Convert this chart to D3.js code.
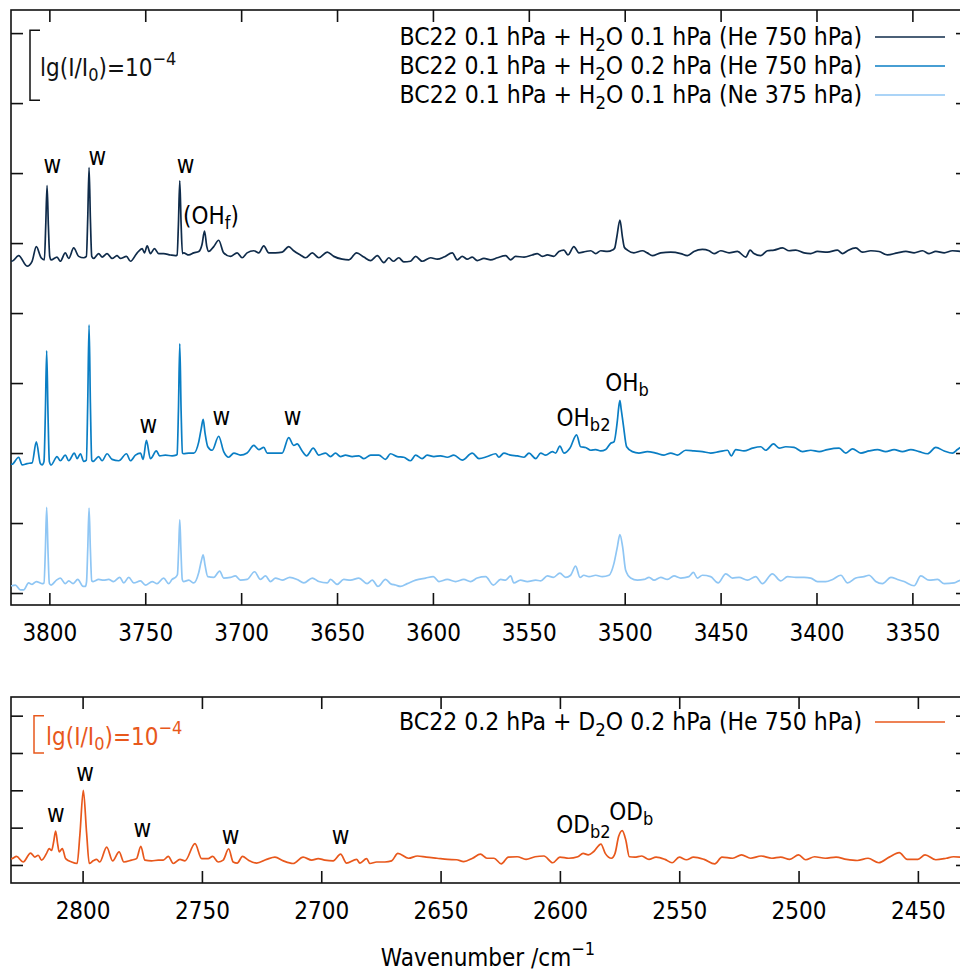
<!DOCTYPE html>
<html>
<head>
<meta charset="utf-8">
<script src="https://cdn.jsdelivr.net/npm/d3@7"></script>
<style>
body { margin: 0; background: #fff; }
text { font-family: "DejaVu Sans", sans-serif; font-stretch: condensed; fill: #000; }
</style>
</head>
<body>
<div id="main"></div>
<script>
// values in units of 1e-5 (so the 1e-4 scale bar is 10 units), relative to each trace baseline
let topXDomain = [3820, 3321];
let botXDomain = [2830, 2429];
let topYDomain = [-1.71, 83.3];
let botYDomain = [-4.83, 45.0];
let topXTicks = [3800, 3750, 3700, 3650, 3600, 3550, 3500, 3450, 3400, 3350];
let botXTicks = [2800, 2750, 2700, 2650, 2600, 2550, 2500, 2450];
let topYTicks = [0, 10, 20, 30, 40, 50, 60, 70, 80];
let botYTicks = [0, 10, 20, 30, 40];

let topLabels = [
  "BC22 0.1 hPa + H_{2}O 0.1 hPa (He 750 hPa)",
  "BC22 0.1 hPa + H_{2}O 0.2 hPa (He 750 hPa)",
  "BC22 0.1 hPa + H_{2}O 0.1 hPa (Ne 375 hPa)"
];
let topColors = ["#0f2b4a", "#0a7ec4", "#8fc6f4"];
let topOffsets = [47.9, 19.0, 1.14];
let botLabel = "BC22 0.2 hPa + D_{2}O 0.2 hPa (He 750 hPa)";
let botColor = "#e8581c";
let botOffset = 1.8;

let darkTrace = [[3820,-0.5],[3819.5,-0.5],[3816,0.3],[3811.6,-1.2],[3809,-0.5],[3806.8,1.6],[3804.3,0],[3802.6,-0.3],[3801.9,4.5],[3801.2,10.3],[3800.5,4.5],[3799.8,0.2],[3799.1,-0.3],[3796,0.1],[3794.3,-0.5],[3791.7,0.7],[3789.9,-0.1],[3787.3,1.4],[3784.7,0.2],[3782.1,0],[3780.7,0.2],[3780,5.5],[3779.3,12.9],[3778.6,5.5],[3777.9,0.2],[3776.9,-0.1],[3774.3,0.6],[3772.5,0.1],[3769.9,0.6],[3767.3,-0.1],[3764.7,0.3],[3763,-0.1],[3759.8,0.2],[3757.7,-0.5],[3754.2,0.7],[3751.6,1.3],[3750.4,0.7],[3749,1.7],[3747.3,0.6],[3745.2,1.3],[3743,0.6],[3740.4,0.6],[3736.9,0.4],[3734.3,0.3],[3733.4,0.4],[3732.7,4.8],[3732,11],[3731.3,4.8],[3730.6,0.6],[3730,0.7],[3727.3,0.4],[3724.7,0.7],[3722.1,0.9],[3720.4,1.9],[3719.1,3.8],[3717.9,1.6],[3716.9,0.9],[3714.3,1.6],[3711.7,2.5],[3709.1,0.7],[3705.6,0.2],[3702.1,0.7],[3699.5,0],[3696.9,0.7],[3693.4,1.0],[3690.8,0.7],[3688.2,1.7],[3685.6,0.7],[3682.1,0.7],[3678.6,0.8],[3675.2,1.6],[3672.6,1.0],[3669.1,0.4],[3666.4,0],[3662.9,0.7],[3659.5,0],[3655.1,0.8],[3651.7,0.2],[3647.3,-0.2],[3643.8,-0.3],[3639.8,0.7],[3636,0.1],[3632.5,-0.4],[3629,0.3],[3625.6,-0.7],[3623,0],[3620.7,-0.5],[3617.8,0],[3615.2,-0.6],[3611.7,-0.5],[3609,0.2],[3605.6,-0.5],[3601.2,0],[3597.7,-0.2],[3594.3,0.1],[3589.9,0.7],[3587.3,-0.3],[3584.7,0.2],[3582.1,-0.2],[3579.5,0.1],[3576.9,-0.4],[3573.4,-0.1],[3569.9,-0.3],[3566.4,0],[3562.1,0.3],[3559.5,-0.3],[3556.9,0.2],[3552.5,0.1],[3548.2,0.4],[3545.6,0.6],[3543,0.2],[3540.3,0.4],[3536.9,0.2],[3534.3,0.9],[3531.7,1.1],[3529.6,0.4],[3526.5,1.6],[3523.9,0.7],[3520.4,0.9],[3517.7,1.0],[3515.1,0.6],[3512.5,1.0],[3509,0.9],[3506.4,1.1],[3505.2,1.4],[3504.1,3.0],[3502.5,5.4],[3501.2,3.0],[3500.2,1.5],[3498.6,1.1],[3495.2,0.7],[3490.8,1.0],[3488.2,0.7],[3485.6,0.3],[3481.2,0.7],[3476,0.8],[3470.8,0.6],[3467.3,0.3],[3463.9,0.9],[3459.5,1.2],[3456,1.0],[3453.4,0.6],[3449.9,1.0],[3445.6,0.7],[3441.2,0.9],[3436.9,0.1],[3434.6,1.1],[3432.6,0.6],[3429.1,0.3],[3425.6,1.0],[3422.1,1.1],[3417.7,1.4],[3414.3,1.0],[3410.8,1.1],[3406.5,0.7],[3403,0.6],[3399.5,0.9],[3394.3,0.8],[3389.1,1.1],[3386.4,0.6],[3383.8,1.0],[3379.5,1.4],[3376,0.8],[3371.7,1.0],[3367.4,0.9],[3363,0.4],[3357.8,0.7],[3353.4,0.9],[3349.1,0.7],[3344.7,1.0],[3341.3,0.6],[3337.8,0.9],[3333.4,0.7],[3329.1,1.0],[3324.7,0.9],[3320,0.8]];

let mediumTrace = [[3820,-0.6],[3819.5,-0.6],[3816,0.4],[3814.2,-0.7],[3811.6,-0.5],[3809,-0.4],[3806.8,2.6],[3804.7,-0.5],[3803.8,-0.7],[3802.8,-0.2],[3802.1,6.5],[3801.4,15.6],[3800.7,6.5],[3800,-0.2],[3799.1,-0.7],[3796,0.5],[3794.3,-0.1],[3791.7,0.7],[3789.9,-0.1],[3787,1.0],[3785.5,0.2],[3783.8,0.9],[3782.1,-0.2],[3780.7,0],[3780,8],[3779.3,19.3],[3778.6,8],[3777.9,0],[3777.2,-0.2],[3774.3,0.5],[3772.5,-0.1],[3769.9,0.9],[3767.3,0.1],[3763.8,-0.1],[3759.8,0.9],[3757.7,-0.1],[3755.1,0.7],[3752.5,1.0],[3751.1,0.1],[3749.4,2.8],[3747.3,0.2],[3744.2,1.3],[3742.5,0.6],[3739.5,0.7],[3736,0.6],[3733.9,0.7],[3733.4,0.8],[3732.7,7],[3732,16.6],[3731.3,7],[3730.6,1.0],[3730,0.9],[3727.3,1.0],[3724.7,1.0],[3722.1,2.6],[3720.8,4.5],[3719.8,5.8],[3718.8,3.8],[3717.4,1.9],[3715.1,1.4],[3711.7,3.4],[3709.1,1.2],[3706.5,0.4],[3703.8,1.0],[3700.4,0.7],[3696.9,1.0],[3693.4,2.1],[3690.8,1.5],[3688.2,1.8],[3686.4,1.0],[3683,1.0],[3678.6,1.0],[3675.2,3.2],[3672.6,2.1],[3670.8,2.3],[3668.2,1.3],[3665.9,0.6],[3662.4,1.7],[3659.5,0.7],[3656,1.0],[3653.4,0.5],[3650.8,1.0],[3648.2,0.5],[3645.6,0.7],[3642.1,0.5],[3638.6,0.6],[3636,0.2],[3632.5,0.7],[3628.2,0.7],[3624.7,0.1],[3622.1,0.9],[3618.6,0.5],[3615.2,0.4],[3611.7,-0.1],[3609,0.7],[3605.6,0.2],[3603,0.7],[3599.5,0.5],[3596,0.6],[3592.5,0.4],[3589.1,0.7],[3584.7,0],[3579.5,1.0],[3576,0.2],[3571.6,0.5],[3567.3,0.9],[3565.6,0.4],[3563,1.0],[3559.5,0.7],[3556,0.6],[3552.5,0.4],[3549.9,1.0],[3546.4,0.2],[3543.8,1.0],[3541.2,0.7],[3537.7,1.2],[3536,1.0],[3533.8,2.0],[3531.7,1.0],[3528.6,1.7],[3525.1,3.6],[3523,1.9],[3520.4,1.8],[3517.7,1.4],[3515.1,1.5],[3512.5,1.3],[3509.9,1.5],[3507.3,2.4],[3505.6,2.6],[3503.8,5.7],[3503.1,7.6],[3502.5,8.5],[3501.9,7.4],[3500.7,5.0],[3499,1.9],[3496,1.2],[3492.6,1.0],[3488.2,1.2],[3483.8,1.0],[3479.5,0.7],[3476,1.0],[3472.5,0.7],[3468.2,1.4],[3463.9,1.3],[3459.5,1.2],[3455.2,1.0],[3450.8,1.2],[3446.4,1.4],[3444.4,0.6],[3442.1,1.5],[3437.8,1.3],[3433.4,1.7],[3429.1,1.9],[3426.5,1.4],[3422.4,2.3],[3419.5,1.7],[3416,1.9],[3411.7,1.8],[3407.3,1.2],[3403,1.4],[3398.6,1.2],[3394.3,1.5],[3388.2,1.7],[3384.7,1.0],[3381.2,1.6],[3376.9,1.0],[3372.6,1.3],[3368.2,1.5],[3363.9,1.2],[3359.5,1.5],[3355.2,1.2],[3350.8,1.5],[3346.5,1.2],[3342.1,0.9],[3337.8,1.8],[3333.4,1.3],[3329.1,1.0],[3326.5,1.5],[3324.7,1.8],[3320,1.6]];

let lightTrace = [[3820,-0.1],[3819.5,-0.1],[3817.7,0],[3815.1,-0.7],[3813.4,-0.7],[3810.8,0.3],[3809,0.1],[3806.8,0.5],[3803.8,0.2],[3802.8,0.3],[3802.1,4.8],[3801.4,11.1],[3800.7,4.8],[3800,0.2],[3799.1,0],[3796.3,0.7],[3794.3,1.0],[3791.7,0.2],[3789.9,0.6],[3787.6,0.2],[3785.2,0.8],[3782.4,-0.2],[3781.2,-0.2],[3780.6,0.5],[3780,5],[3779.3,11.0],[3778.6,5],[3777.9,0.6],[3777.2,0.5],[3774.3,0.8],[3771.7,0.7],[3769.1,0.8],[3766.5,0.5],[3763.3,1.1],[3761.2,0.3],[3758.6,1.1],[3756,0.3],[3752.5,0.6],[3749.9,0],[3746.4,0.5],[3743.8,0.2],[3740.4,1.0],[3737.8,0.2],[3736,0.8],[3733.9,1.2],[3733.2,1.5],[3732.6,5],[3732,9.3],[3731.4,5],[3730.7,0.8],[3730,0.5],[3727.3,0.7],[3724.7,0.3],[3722.1,1.8],[3720.8,3.4],[3719.8,4.3],[3718.8,2.8],[3717.4,1.2],[3714.3,1.1],[3711.2,2.0],[3709.1,1.0],[3705.6,1.1],[3703,1.3],[3700.4,0.7],[3696.9,0.8],[3693,1.9],[3689.9,0.8],[3687.3,1.3],[3684.7,0.5],[3682.1,1.0],[3678.6,0.7],[3674.6,1.1],[3670.8,0.8],[3667.3,0.3],[3662.9,1.0],[3659.5,0.5],[3655.1,0.3],[3653.4,0.8],[3649.9,0.1],[3646.5,0.8],[3643,0.7],[3638.6,1.0],[3634.3,0.2],[3631.6,0.7],[3628.7,-0.2],[3624.7,0.8],[3622.1,0.2],[3619.5,0],[3616.9,-0.2],[3613.4,0.2],[3609,0.7],[3603.8,1.0],[3599.8,1.2],[3596.9,0.5],[3592.5,0.8],[3588.2,0.5],[3583.9,0.8],[3580.4,0.5],[3576.9,1.0],[3572.5,1.2],[3568.5,0],[3564.7,0.8],[3562.1,0.7],[3559.5,1.3],[3557.8,0.3],[3554.3,0.7],[3550.8,0.5],[3546.4,0.7],[3543.8,0.6],[3540.3,1.3],[3537.2,1.1],[3533.8,1.7],[3530.8,1.1],[3528.2,1.4],[3525.6,2.7],[3523.3,1.1],[3521.3,1.4],[3518.6,1.2],[3515.1,1.4],[3511.7,1.2],[3508.2,1.4],[3505.6,3.1],[3503.8,5.5],[3502.5,7.2],[3501.1,5.5],[3499.5,2.1],[3496.9,1.0],[3493.4,0.7],[3489.9,0.8],[3487.3,1.1],[3484.7,0.7],[3481.2,1.1],[3477.7,0.8],[3474.3,1.3],[3470.8,1.0],[3466.5,1.2],[3464.2,1.8],[3462.1,1.0],[3459.5,1.4],[3455.2,1.2],[3451.3,0.3],[3447.3,1.6],[3443.8,1.0],[3440.4,1.1],[3436,0.7],[3431.7,1.2],[3428.2,0.2],[3423,1.6],[3418.6,0.6],[3415.1,1.2],[3410.8,1.1],[3406.5,1.1],[3403,1.0],[3399.5,0.5],[3395.2,0.5],[3391.6,0.8],[3387.3,1.4],[3383.8,0.3],[3379.5,1.0],[3375.2,1.2],[3372.6,1.4],[3369.1,0.5],[3365.6,0.2],[3361.2,1.1],[3357.8,0.8],[3354.3,0.5],[3349.1,-0.1],[3345.6,1.3],[3341.3,0.7],[3336.9,0.8],[3333.4,0.2],[3328.2,0.3],[3324.7,0.7],[3320,0.6]];

let orangeTrace = [[2830,-0.1],[2829.7,-0.1],[2827.7,0.5],[2824.9,-1.0],[2821.8,1.4],[2820,0.3],[2818.6,0.8],[2817.2,-0.5],[2815.1,1.3],[2814,2.6],[2813,2.1],[2812.1,4.5],[2811.3,7.3],[2810.5,4],[2809.8,1.7],[2808.5,2.6],[2807.1,-0.1],[2804.6,-1.0],[2802.3,-1.4],[2801.1,6.6],[2799.7,18.2],[2798.3,6.6],[2797.2,-1.4],[2795.6,-0.7],[2794.1,-0.3],[2792.8,-1.0],[2789.9,3.0],[2787.4,-0.7],[2784.7,1.7],[2782.7,-1.0],[2779.5,-0.5],[2777.4,-0.1],[2775.6,3.2],[2773.9,-0.5],[2771.1,-0.7],[2768.3,-0.5],[2766.2,-0.5],[2764.1,0.5],[2762,-1.4],[2759.2,-0.3],[2757.1,-0.7],[2752.9,3.9],[2750.1,-0.1],[2747.4,-0.1],[2745.5,0.5],[2743.2,-1.0],[2741.1,-0.5],[2738.8,2.5],[2736.9,-1.0],[2735.2,-1.3],[2733,0.5],[2730.6,-0.5],[2727.1,-1.3],[2722.9,-0.3],[2719.4,0.3],[2715.9,-0.7],[2711.8,-1.4],[2707.6,0.3],[2704,-0.5],[2701.3,-0.1],[2698.5,-0.5],[2695,-0.7],[2691.9,1.1],[2689.4,-1.3],[2685.2,-0.3],[2683.8,-1.3],[2681,-0.1],[2679.6,-1.4],[2676.8,-1.0],[2673.3,-1.0],[2670.5,-0.7],[2667.9,1.3],[2663.4,0],[2659.7,0.6],[2656,0.3],[2651.5,0],[2647,-0.3],[2643.3,-0.4],[2640.3,-0.9],[2636.6,0],[2633.3,1.1],[2630.6,0],[2627.6,0],[2624.6,-1.5],[2621.6,0.3],[2617.9,0.4],[2614.2,-0.3],[2610.4,0.4],[2606.7,0.6],[2603,-1.2],[2600,0.3],[2596.3,0],[2592.5,0.4],[2590.3,1.3],[2588.1,0.9],[2585.8,1.8],[2582.8,3.8],[2581,1.3],[2578.4,0],[2576.9,1.3],[2575.4,5.8],[2573.9,7.4],[2572.4,4.9],[2570.9,0.4],[2568.7,0.3],[2565.7,0.6],[2562.7,-0.3],[2559.7,0.3],[2556,-0.3],[2553,-1.2],[2550,0.3],[2547,-0.4],[2544,0.3],[2539.6,-0.3],[2535.1,-1.5],[2532.1,0.3],[2527.6,0],[2523.9,0.9],[2520.1,0],[2515.7,0.6],[2511.2,0],[2507.5,0.3],[2503.7,-0.3],[2500,0.9],[2497,-0.4],[2493.3,0.4],[2488.8,0],[2484.3,0.3],[2479.9,-0.3],[2475.4,-0.6],[2470.9,0],[2466.4,-1.2],[2462,0.3],[2457.8,1.5],[2454.5,-0.3],[2450,-0.3],[2447,0.9],[2442.5,-0.4],[2438.1,0],[2435.1,0.4],[2430,0.2]];

// peak annotations: [text, wavenumber, value (absolute panel units), anchor]
let topNotes = [
  ["w", 3798.4, 60.0, "middle"], ["w", 3775.0, 61.1, "middle"], ["w", 3729.0, 60.0, "middle"],
  ["(OH_{f})", 3730.3, 52.7, "start"],
  ["w", 3748.4, 22.9, "middle"], ["w", 3710.3, 24.0, "middle"], ["w", 3673.2, 24.0, "middle"],
  ["OH_{b2}", 3535.5, 23.9, "start"], ["OH_{b}", 3510.2, 28.9, "start"]
];
let botNotes = [
  ["w", 2811.2, 11.5, "middle"], ["w", 2799.0, 22.5, "middle"], ["w", 2775.0, 7.5, "middle"],
  ["w", 2738.0, 5.7, "middle"], ["w", 2691.9, 5.7, "middle"],
  ["OD_{b2}", 2601.5, 8.5, "start"], ["OD_{b}", 2579.3, 12.0, "start"]
];
let scaleBarText = "lg(I/I_{0})=10^{\u22124}";
let xTitle = "Wavenumber /cm^{\u22121}";

let svg = d3.select("#main")
    .append("svg")
    .attr("width", 960)
    .attr("height", 974);

let left = 11, right = 968;
let fontSize = 24;

function rich(t, str) {
    str.split(/(_\{[^}]*\}|\^\{[^}]*\})/).filter(s => s.length).forEach(s => {
        if (s[0] === "_" && s[1] === "{")
            t.append("tspan").attr("font-size", "75%").attr("baseline-shift", "-0.3em").text(s.slice(2, -1));
        else if (s[0] === "^" && s[1] === "{")
            t.append("tspan").attr("font-size", "75%").attr("baseline-shift", "0.6em").text(s.slice(2, -1));
        else
            t.append("tspan").text(s);
    });
    return t;
}

function panel(top, bottom, xDomain, yDomain, xTicks, yTicks) {
    let x = d3.scaleLinear().domain(xDomain).range([left, right]);
    let y = d3.scaleLinear().domain(yDomain).range([bottom, top]);
    let g = svg.append("g");

    g.append("g").attr("transform", `translate(0,${bottom})`)
        .call(d3.axisBottom(x).tickValues(xTicks).tickSize(-12).tickPadding(19).tickFormat(d3.format("d")));
    g.append("g").attr("transform", `translate(0,${top})`)
        .call(d3.axisTop(x).tickValues(xTicks).tickSize(-12).tickFormat(""));
    g.append("g").attr("transform", `translate(${left},0)`)
        .call(d3.axisLeft(y).tickValues(yTicks).tickSize(-12).tickFormat(""));
    g.append("g").attr("transform", `translate(${right},0)`)
        .call(d3.axisRight(y).tickValues(yTicks).tickSize(-12).tickFormat(""));

    g.selectAll(".domain").remove();
    g.selectAll(".tick line").attr("stroke", "#111").attr("stroke-width", 1.6);
    g.selectAll(".tick text").attr("font-size", fontSize);

    g.append("rect")
        .attr("x", left).attr("y", top)
        .attr("width", right - left).attr("height", bottom - top)
        .attr("fill", "none").attr("stroke", "#111").attr("stroke-width", 1.6);

    let clip = "clip" + top;
    svg.append("clipPath").attr("id", clip).append("rect")
        .attr("x", left).attr("y", top).attr("width", right - left).attr("height", bottom - top);
    let plot = g.append("g").attr("clip-path", `url(#${clip})`);
    return {x: x, y: y, g: g, plot: plot};
}

function drawTrace(p, data, offset, color) {
    let line = d3.line()
        .x(d => p.x(d[0]))
        .y(d => p.y(d[1] + offset))
        .curve(d3.curveMonotoneX);
    p.plot.append("path")
        .datum(data)
        .attr("d", line)
        .attr("fill", "none")
        .attr("stroke", color)
        .attr("stroke-width", 1.7)
        .attr("stroke-linejoin", "round");
}

function notes(p, list) {
    list.forEach(n => {
        rich(p.g.append("text")
            .attr("x", p.x(n[1]))
            .attr("y", p.y(n[2]))
            .attr("text-anchor", n[3])
            .attr("font-size", fontSize), n[0]);
    });
}

function legendRow(p, label, color, yc) {
    rich(p.g.append("text")
        .attr("x", 862)
        .attr("y", yc + 8)
        .attr("text-anchor", "end")
        .attr("font-size", 24.5), label);
    p.g.append("line")
        .attr("x1", 875).attr("x2", 945)
        .attr("y1", yc).attr("y2", yc)
        .attr("stroke", color).attr("stroke-width", 1.7);
}

function scaleBar(p, v0, v1, xb, color, tx, ty) {
    let y0 = p.y(v0), y1 = p.y(v1);
    p.g.append("path")
        .attr("d", `M${xb + 10},${y1}H${xb}V${y0}H${xb + 10}`)
        .attr("fill", "none").attr("stroke", color).attr("stroke-width", 1.5);
    rich(p.g.append("text")
        .attr("x", tx).attr("y", ty)
        .attr("font-size", fontSize)
        .style("fill", color), scaleBarText);
}

// upper panel: H2O
let pTop = panel(10, 605, topXDomain, topYDomain, topXTicks, topYTicks);
[darkTrace, mediumTrace, lightTrace].forEach((t, i) => drawTrace(pTop, t, topOffsets[i], topColors[i]));
topLabels.forEach((l, i) => legendRow(pTop, l, topColors[i], 37 + i * 29));
scaleBar(pTop, 70.4, 80.4, 30, "#111", 40, 76);
notes(pTop, topNotes);

// lower panel: D2O
let pBot = panel(697, 883, botXDomain, botYDomain, botXTicks, botYTicks);
drawTrace(pBot, orangeTrace, botOffset, botColor);
legendRow(pBot, botLabel, botColor, 722);
scaleBar(pBot, 30, 40, 34, botColor, 46, 745);
notes(pBot, botNotes);

rich(svg.append("text")
    .attr("x", 488).attr("y", 966)
    .attr("text-anchor", "middle")
    .attr("font-size", fontSize), xTitle);
</script>
</body>
</html>
